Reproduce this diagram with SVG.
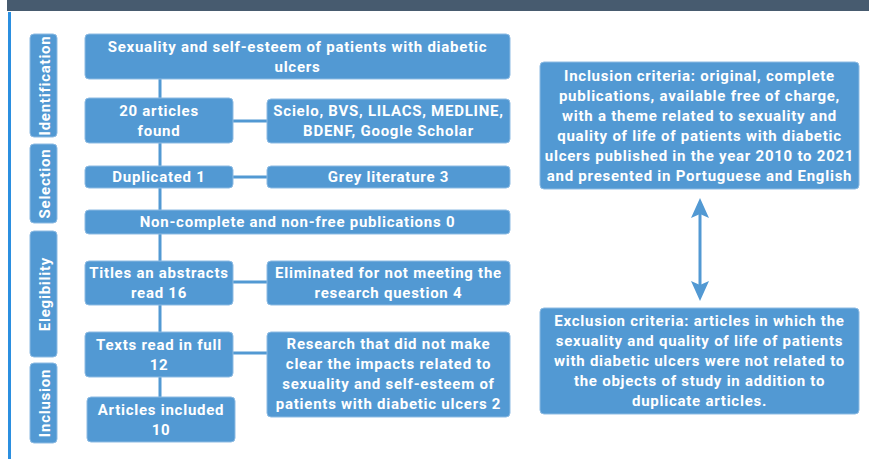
<svg xmlns="http://www.w3.org/2000/svg" width="869" height="459" viewBox="0 0 869 459">
  <style>
    .box { fill: #5299d3; stroke: #8dbbe3; stroke-width: 1; }
    .pill { fill: #5299d3; stroke: #8dbbe3; stroke-width: 1; }
    .t { font-family: Roboto, "Liberation Sans", sans-serif; font-weight: bold; font-size: 15px; letter-spacing: 0.75px; fill: #ffffff; text-anchor: middle; }
    .side { font-family: Roboto, "Liberation Sans", sans-serif; font-weight: bold; font-size: 15px; letter-spacing: 0.75px; fill: #ffffff; text-anchor: middle; }
    .link { stroke: #5299d3; stroke-width: 3; fill: none; }
  </style>
  <defs>
    <marker id="head" viewBox="0 0 20 18" refX="4" refY="9" markerUnits="userSpaceOnUse" markerWidth="20" markerHeight="18" orient="auto-start-reverse">
      <path d="M0,0 L20,9 L0,18 L4,9 Z" fill="#5299d3"/>
    </marker>
  </defs>

  <rect x="0" y="0" width="869" height="459" fill="#ffffff"/>
  <!-- header bar and left rule -->
  <rect x="7" y="0" width="862" height="11" fill="#475b6f"/>
  <rect x="8" y="12" width="3" height="447" fill="#2b8fe0"/>

  <!-- stage labels -->
  <g id="stage-identification">
    <rect class="pill" x="30" y="34" width="27" height="103" rx="4"/>
    <text class="side" transform="translate(49.5,85.5) rotate(-90)">Identification</text>
  </g>
  <g id="stage-selection">
    <rect class="pill" x="30" y="144" width="27" height="79" rx="4"/>
    <text class="side" transform="translate(49.5,183.5) rotate(-90)">Selection</text>
  </g>
  <g id="stage-elegibility">
    <rect class="pill" x="30" y="231" width="27" height="126" rx="4"/>
    <text class="side" transform="translate(49.5,294) rotate(-90)">Elegibility</text>
  </g>
  <g id="stage-inclusion">
    <rect class="pill" x="30" y="363" width="27" height="80" rx="4"/>
    <text class="side" transform="translate(49.5,403) rotate(-90)">Inclusion</text>
  </g>

  <!-- connectors -->
  <g id="connectors">
    <line class="link" x1="160" y1="79" x2="160" y2="397"/>
    <line class="link" x1="233" y1="121" x2="267" y2="121"/>
    <line class="link" x1="233" y1="177" x2="267" y2="177"/>
    <line class="link" x1="233" y1="282" x2="267" y2="282"/>
    <line class="link" x1="233" y1="353" x2="267" y2="353"/>
    <line class="link" x1="700" y1="214" x2="700" y2="285" marker-start="url(#head)" marker-end="url(#head)"/>
  </g>

  <g id="topic">
    <rect class="box" x="85" y="34" width="425" height="45" rx="4"/>
    <text class="t" x="297.5" y="51.5">Sexuality and self-esteem of patients with diabetic</text>
    <text class="t" x="297.5" y="71.5">ulcers</text>
  </g>
  <g id="found">
    <rect class="box" x="85" y="98" width="148" height="45" rx="4"/>
    <text class="t" x="159" y="115.5">20 articles</text>
    <text class="t" x="159" y="135.5">found</text>
  </g>
  <g id="databases">
    <rect class="box" x="267" y="99" width="243" height="44" rx="4"/>
    <text class="t" x="388.5" y="116">Scielo, BVS, LILACS, MEDLINE,</text>
    <text class="t" x="388.5" y="136">BDENF, Google Scholar</text>
  </g>
  <g id="duplicated">
    <rect class="box" x="85" y="166" width="148" height="22" rx="4"/>
    <text class="t" x="159" y="182">Duplicated 1</text>
  </g>
  <g id="grey-literature">
    <rect class="box" x="267" y="166" width="243" height="22" rx="4"/>
    <text class="t" x="388.5" y="182">Grey literature 3</text>
  </g>
  <g id="non-complete">
    <rect class="box" x="85" y="210" width="425" height="24" rx="4"/>
    <text class="t" x="297.5" y="227">Non-complete and non-free publications 0</text>
  </g>
  <g id="titles-abstracts">
    <rect class="box" x="85" y="261" width="148" height="44" rx="4"/>
    <text class="t" x="159" y="278">Titles an abstracts</text>
    <text class="t" x="159" y="298">read 16</text>
  </g>
  <g id="eliminated">
    <rect class="box" x="267" y="261" width="243" height="44" rx="4"/>
    <text class="t" x="388.5" y="278">Eliminated for not meeting the</text>
    <text class="t" x="388.5" y="298">research question 4</text>
  </g>
  <g id="full-text">
    <rect class="box" x="85" y="332" width="148" height="45" rx="4"/>
    <text class="t" x="159" y="349.5">Texts read in full</text>
    <text class="t" x="159" y="369.5">12</text>
  </g>
  <g id="unclear-impacts">
    <rect class="box" x="267" y="332" width="243" height="85" rx="4"/>
    <text class="t" x="388.5" y="348.5">Research that did not make</text>
    <text class="t" x="388.5" y="368.5">clear the impacts related to</text>
    <text class="t" x="388.5" y="388.5">sexuality and self-esteem of</text>
    <text class="t" x="388.5" y="408.5">patients with diabetic ulcers 2</text>
  </g>
  <g id="included">
    <rect class="box" x="87" y="397" width="148" height="45" rx="4"/>
    <text class="t" x="161" y="414.5">Articles included</text>
    <text class="t" x="161" y="434.5">10</text>
  </g>

  <g id="inclusion-criteria">
    <rect class="box" x="540" y="62" width="319" height="127" rx="4"/>
    <text class="t" x="699.5" y="80.5">Inclusion criteria: original, complete</text>
    <text class="t" x="699.5" y="100.5">publications, available free of charge,</text>
    <text class="t" x="699.5" y="120.5">with a theme related to sexuality and</text>
    <text class="t" x="699.5" y="140.5">quality of life of patients with diabetic</text>
    <text class="t" x="699.5" y="160.5">ulcers published in the year 2010 to 2021</text>
    <text class="t" x="699.5" y="180.5">and presented in Portuguese and English</text>
  </g>
  <g id="exclusion-criteria">
    <rect class="box" x="540" y="308" width="319" height="106" rx="4"/>
    <text class="t" x="699.5" y="326">Exclusion criteria: articles in which the</text>
    <text class="t" x="699.5" y="346">sexuality and quality of life of patients</text>
    <text class="t" x="699.5" y="366">with diabetic ulcers were not related to</text>
    <text class="t" x="699.5" y="386">the objects of study in addition to</text>
    <text class="t" x="699.5" y="406">duplicate articles.</text>
  </g>
</svg>
